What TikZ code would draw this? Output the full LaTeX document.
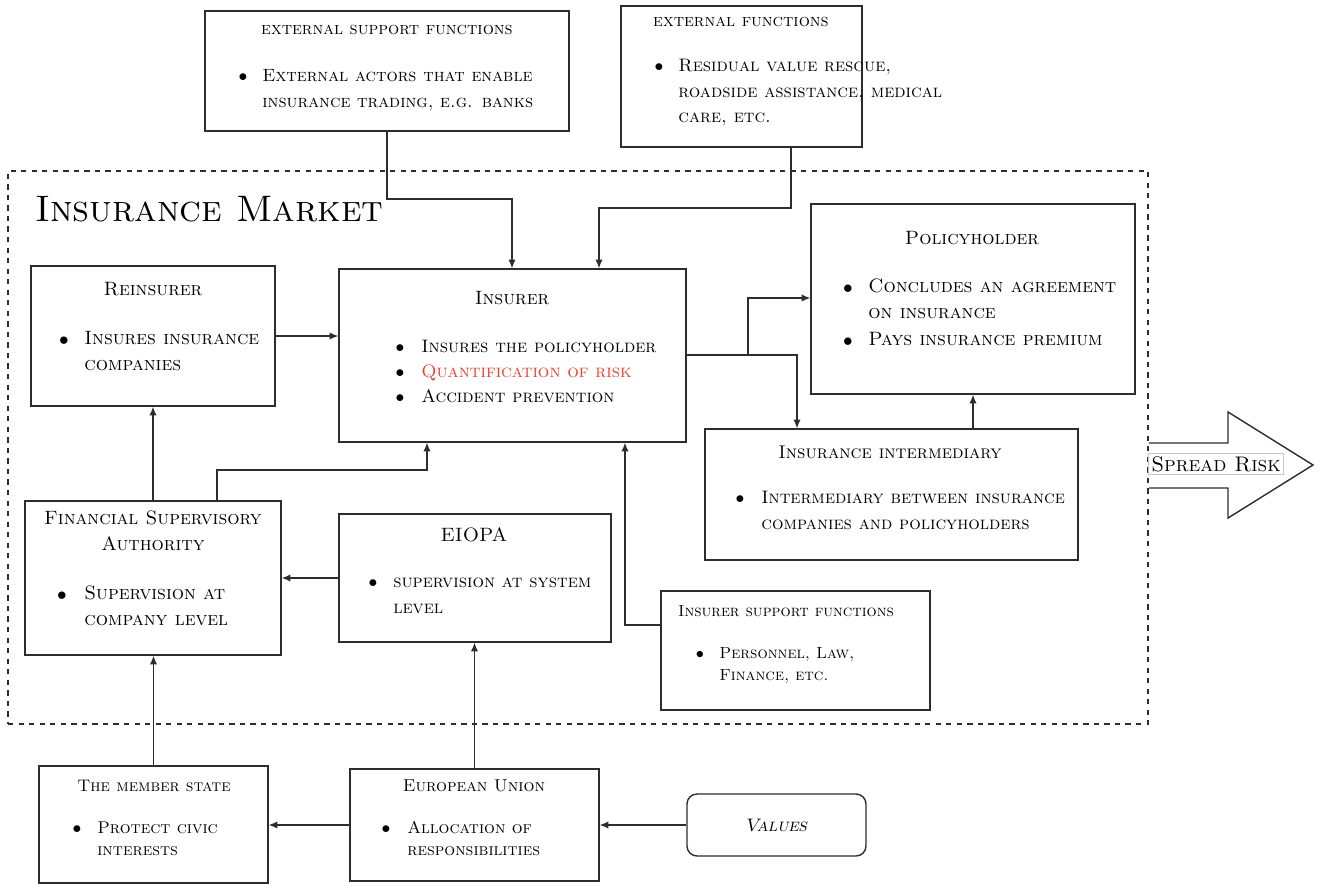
\documentclass[tikz,border=0pt]{standalone}
\usetikzlibrary{arrows.meta,fit,calc}
\definecolor{ln}{RGB}{45,45,45}
\definecolor{qred}{RGB}{238,62,40}
\newcommand\fsz[1]{\fontsize{#1}{14.4}\selectfont\scshape}
\newcommand\itm[5]{%
  \node[txt] (#1b) at (#2,#4) {$\bullet$};
  \node[txt, anchor=mid west] (#1t) at (#3,#4) {\parbox[t]{8cm}{\raggedright #5}};}
\tikzset{
  box/.style={draw=ln, line width=0.8pt, inner sep=0pt},
  arr/.style={draw=ln, line width=0.7pt, -{Latex[length=5pt,width=4.2pt]}},
  txt/.style={inner sep=0pt, font=\fsz{11}, yshift=-0.06cm},
  hd/.style={inner sep=0pt, font=\fsz{11}, anchor=mid, yshift=-0.06cm},
}
\begin{document}
\begin{tikzpicture}[x=0.02cm,y=-0.02cm]
\useasboundingbox (0,0) rectangle (1321,886);
% frame
\node[draw=ln, dashed, line width=0.6pt, inner sep=0pt, fit={(8,171) (1148,724)}] (market) {};
\node[inner sep=0pt, anchor=base west, font=\fontsize{21}{24}\selectfont\scshape] (title) at (35,221) {Insurance Market};
% boxes
\node[box, fit={(205,11) (569,131)}] (esf) {};
\node[box, fit={(621,6) (862,147)}] (ef) {};
\node[box, fit={(31,266) (275,406)}] (re) {};
\node[box, fit={(339,269) (686,442)}] (ins) {};
\node[box, fit={(811,204) (1135,394)}] (ph) {};
\node[box, fit={(705,429) (1078,560)}] (im) {};
\node[box, fit={(25,501) (281,655)}] (fsa) {};
\node[box, fit={(339,514) (611,642)}] (eiopa) {};
\node[box, fit={(661,591) (930,710)}] (isf) {};
\node[box, fit={(39,766) (268,883)}] (ms) {};
\node[box, fit={(350,769) (599,881)}] (eu) {};
\node[box, rounded corners=0.2cm, fit={(687,794) (866,856)}] (val) {};
% texts
\node[hd, font=\fsz{10}] (esfh) at (387,28) {external support functions};
\node[hd, font=\fsz{10}] (efh) at (741,20) {external functions};
\begin{scope}[txt/.append style={font=\fsz{10.1}}]
\itm{esf1}{243}{262}{75}{External actors that enable\\insurance trading, e.g. banks}
\end{scope}
\begin{scope}[txt/.append style={font=\fsz{10.3}}]
\itm{ef1}{659}{678}{65}{Residual value rescue,\\roadside assistance, medical\\care, etc.}
\itm{ins1}{400}{421}{346}{Insures the policyholder}
\itm{ins2}{400}{421}{371}{\textcolor{qred}{Quantification of risk}}
\itm{ins3}{400}{421}{396}{Accident prevention}
\itm{im1}{740}{761}{497}{Intermediary between insurance\\companies and policyholders}
\itm{eiopa1}{373}{393}{581}{supervision at system\\level}
\end{scope}
\node[hd] (reh) at (153,289) {Reinsurer};
\itm{re1}{64}{84}{338}{Insures insurance\\companies}
\node[hd] (insh) at (512,298) {Insurer};
\node[hd] (phh) at (972,238) {Policyholder};
\itm{ph1}{848}{868}{286}{Concludes an agreement\\on insurance}
\itm{ph2}{848}{868}{339}{Pays insurance premium}
\node[hd, font=\fsz{10.5}] (imh) at (890,452) {Insurance intermediary};
\node[hd, align=center] (fsah) at (153,518) {\parbox[t]{6cm}{\centering Financial Supervisory\\Authority}};
\itm{fsa1}{62}{84}{593}{Supervision at\\company level}
\node[hd] (eiopah) at (474,535) {EIOPA};
\node[hd, font=\fsz{9.1}] (isfh) at (786,610) {Insurer support functions};
\begin{scope}[txt/.append style={font=\fontsize{9.2}{12.6}\selectfont\scshape}]
\itm{isf1}{700}{719}{652}{Personnel, Law,\\Finance, etc.}
\end{scope}
\begin{scope}[txt/.append style={font=\fontsize{9.7}{12.6}\selectfont\scshape}]
\node[hd, font=\fsz{9.5}] (msh) at (154,785) {The member state};
\itm{ms1}{77}{97}{827}{Protect civic\\interests}
\node[hd, font=\fsz{9.8}] (euh) at (474,785) {European Union};
\itm{eu1}{386}{407}{827}{Allocation of\\responsibilities}
\end{scope}
\node[hd, xslant=0.22, font=\fsz{10.3}] (valt) at (val.center) {Values};
% spread risk arrow
\draw[ln, line width=0.8pt, line join=miter] (1149,443) -- (1228,443) -- (1228,412) -- (1313,465) -- (1228,518) -- (1228,488) -- (1149,488);
\node[draw=gray!45, line width=0.3pt, inner sep=1.5pt, font=\fontsize{12}{14}\selectfont\scshape] (spread) at (1216,464) {Spread Risk};
% connectors
\draw[arr] (esf.south) |- (512,199) -- (ins.north -| 512,0);
\draw[arr] (ef.south -| 791,0) |- (599,208) -- (ins.north -| 599,0);
\draw[arr] (re.east |- 0,336) -- (ins.west |- 0,336);
\draw[arr] (ins.east |- 0,355) -- (748,355) |- (ph.west |- 0,298);
\draw[arr] (ins.east |- 0,355) -| (im.north -| 797,0);
\draw[arr] (im.north -| ph.south) -- (ph.south);
\draw[arr] (fsa.north -| re.south) -- (re.south);
\draw[arr] (fsa.north -| 217,0) |- (427,470) -- (ins.south -| 427,0);
\draw[arr] (eiopa.west |- 0,578) -- (fsa.east |- 0,578);
\draw[arr] (isf.west |- 0,625) -| (ins.south -| 625,0);
\draw[arr] (ms.north) -- (fsa.south -| ms.north);
\draw[arr] (eu.north) -- (eiopa.south -| eu.north);
\draw[arr] (eu.west |- 0,825) -- (ms.east |- 0,825);
\draw[arr] (val.west) -- (eu.east |- val.west);
\end{tikzpicture}
\end{document}
